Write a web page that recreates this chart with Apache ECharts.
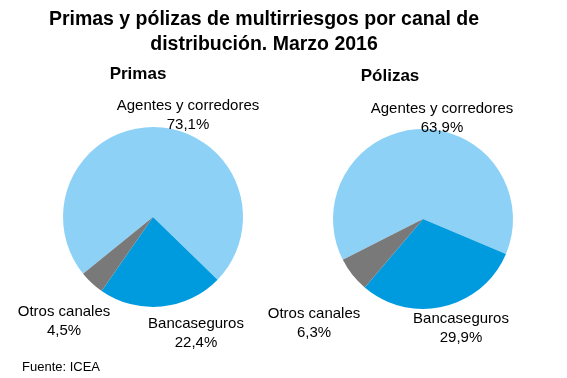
<!DOCTYPE html>
<html><head><meta charset="utf-8">
<script src="https://cdn.jsdelivr.net/npm/echarts@6/dist/echarts.min.js"></script>
<style>html,body{margin:0;padding:0;background:#fff}#c{width:567px;height:378px}</style>
</head><body><div id="c"></div>
<script>
const categories = ['Agentes y corredores', 'Bancaseguros', 'Otros canales'];
const primasValues = [73.1, 22.4, 4.5];
const polizasValues = [63.9, 29.9, 6.3];
const colors = ['#8DD2F6', '#009BDF', '#797979'];
// label centre positions [x, y] per series, per category
const labelPos = [
  [[188, 115], [196, 333], [64, 321]],
  [[442, 118], [461, 328], [314, 323]]
];
const chart = echarts.init(document.getElementById('c'));
const fmt = p => p.name + '\n' + p.value.toFixed(1).replace('.', ',') + '%';
function pie(values, center, startAngle, si) {
  return {
    type: 'pie', center: center, radius: 90, startAngle: startAngle, clockwise: true,
    animation: false, silent: true,
    data: categories.map((c, i) => ({ name: c, value: values[i], itemStyle: { color: colors[i] } })),
    label: { show: true, position: 'outside', formatter: fmt, color: '#000', fontFamily: 'Liberation Sans', fontSize: 15, lineHeight: 19, align: 'center', overflow: 'none', width: 200 },
    labelLine: { show: false },
    labelLayout: p => ({ x: labelPos[si][p.dataIndex][0], y: labelPos[si][p.dataIndex][1], align: 'center', verticalAlign: 'middle' }),
    itemStyle: { borderWidth: 0 }
  };
}
chart.setOption({
  animation: false,
  title: [
    { text: 'Primas y pólizas de multirriesgos por canal de\ndistribución. Marzo 2016', left: 259, top: 2, textAlign: 'center',
      textStyle: { fontFamily: 'Liberation Sans', fontWeight: 'bold', fontSize: 19.5, lineHeight: 25, color: '#000' } },
    { text: 'Primas', left: 133, top: 61, textAlign: 'center', textStyle: { fontFamily: 'Liberation Sans', fontWeight: 'bold', fontSize: 17, color: '#000' } },
    { text: 'Pólizas', left: 385, top: 63, textAlign: 'center', textStyle: { fontFamily: 'Liberation Sans', fontWeight: 'bold', fontSize: 17, color: '#000' } },
    { text: 'Fuente: ICEA', left: 17, top: 356, textStyle: { fontFamily: 'Liberation Sans', fontWeight: 'normal', fontSize: 13, color: '#000' } }
  ],
  series: [
    pie(primasValues, [153, 217], 219, 0),
    pie(polizasValues, [423, 219], 207, 1)
  ]
});
</script></body></html>
